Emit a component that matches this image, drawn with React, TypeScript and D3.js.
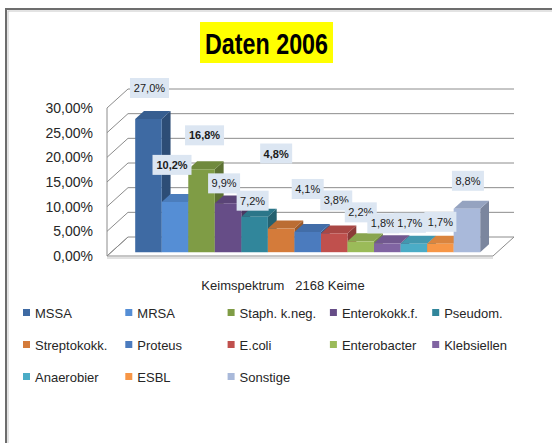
import React from "react";
import * as d3 from "d3";

// Keimspektrum 2006, Anteile in %
const categories = [
  "MSSA", "MRSA", "Staph. k.neg.", "Enterokokk.f.", "Pseudom.",
  "Streptokokk.", "Proteus", "E.coli", "Enterobacter", "Klebsiellen",
  "Anaerobier", "ESBL", "Sonstige",
];
const shares = [27.0, 10.2, 16.8, 9.9, 7.2, 4.8, 4.1, 3.8, 2.2, 1.8, 1.7, 1.7, 8.8];
const yTicks = [0, 5, 10, 15, 20, 25, 30];
const boldLabels = ["MRSA", "Staph. k.neg.", "Streptokokk."];

const barColors = [
  "#3e6aa3", "#558ed5", "#7f9c45", "#664d87", "#31869b", "#d47b3a", "#4b7bbe",
  "#c0504d", "#9bbb59", "#8064a2", "#4bacc6", "#f79646", "#a9b9da",
];

// label placement as Excel left it (px above bar top, px sideways)
const labelLift = [31, 37, 34, 20, 16, 75, 43, 33, 29, 20, 21, 22, 28];
const labelShift = [1, -3, 3, -4, -2, -5, 0, 2, 0, -4, -4, 0, 1];

const W = 552;
const H = 443;
const DX = 21; // depth projection
const DY = 19;
const font = "'Liberation Sans', Arial, sans-serif";

const de = d3.formatLocale({ decimal: ",", thousands: ".", grouping: [3], currency: ["", "€"] });
const fmtTick = (v: number) => de.format(".2f")(v) + "%";
const fmtLabel = (v: number) => de.format(".1f")(v) + "%";

export default function App() {
  const y = d3.scaleLinear().domain([0, 30]).range([256, 108]);
  const x = d3.scaleBand().domain(categories).range([131, 476]).padding(0);
  const wallLeft = 107;
  const wallRight = 493;
  const t0 = 0.2;
  const t1 = 0.62;

  const p = (px: number, py: number, t: number) => [px + DX * t, py - DY * t];
  const poly = (pts: number[][]) => pts.map((q) => q.join(",")).join(" ");

  return (
    <svg width={W} height={H} style={{ position: "absolute", left: 0, top: 0, background: "#fff" }}>
      {/* frame */}
      <rect x={6} y={9} width={W + 10} height={H + 10} fill="none" stroke="#6d6d6d" strokeWidth={2} />
      <rect x={8} y={11} width={W + 10} height={H + 10} fill="none" stroke="#c8c8c8" strokeWidth={1} />

      {/* title */}
      <rect x={200} y={22} width={133} height={41} fill="#ffff00" />
      <text x={266.5} y={54} textAnchor="middle" fontFamily="'Liberation Sans Narrow', 'Arial Narrow', sans-serif"
        fontWeight="bold" fontSize={29} textLength={123} lengthAdjust="spacingAndGlyphs" fill="#000">
        Daten 2006
      </text>

      {/* floor */}
      <polygon
        points={poly([[wallLeft, y(0)], [wallRight, y(0)], p(wallRight, y(0), 1), p(wallLeft, y(0), 1)])}
        fill="#fff" stroke="#8c8c8c" strokeWidth={1}
      />
      <line x1={wallLeft} x2={wallRight} y1={y(0) + 2} y2={y(0) + 2} stroke="#c4c4c4" />

      {/* walls and gridlines */}
      <line x1={wallLeft} x2={wallLeft} y1={y(30)} y2={y(0)} stroke="#8c8c8c" />
      {yTicks.map((v) => {
        const [bx, by] = p(wallLeft, y(v), 1);
        const [ex] = p(wallRight, y(v), 1);
        return (
          <g key={v}>
            <line x1={wallLeft} y1={y(v)} x2={bx} y2={by} stroke="#8c8c8c" />
            {v > 0 && <line x1={bx} y1={by} x2={ex} y2={by} stroke="#8c8c8c" />}
          </g>
        );
      })}

      {/* y axis labels */}
      {yTicks.map((v) => (
        <text key={v} x={93} y={y(v) + 5} textAnchor="end" fontFamily={font} fontSize={14} fill="#262626">
          {fmtTick(v)}
        </text>
      ))}

      {/* bars */}
      {categories.map((c, i) => {
        const x0 = x(c)!;
        const x1 = x0 + x.bandwidth();
        const top = y(shares[i]);
        const base = y(0);
        const col = d3.color(barColors[i])!;
        const fl = p(x0, base, t0);
        const fr = p(x1, base, t0);
        const tl = p(x0, top, t0);
        const tr = p(x1, top, t0);
        const btl = p(x0, top, t1);
        const btr = p(x1, top, t1);
        const bbr = p(x1, base, t1);
        return (
          <g key={c}>
            <polygon points={poly([tr, btr, bbr, fr])} fill={col.darker(0.9).toString()} />
            <polygon points={poly([tl, tr, btr, btl])} fill={col.darker(0.35).toString()} />
            <polygon points={poly([fl, fr, tr, tl])} fill={col.toString()} />
          </g>
        );
      })}

      {/* data labels */}
      {categories.map((c, i) => {
        const label = fmtLabel(shares[i]);
        const [fx, fy] = p(x(c)! + x.bandwidth() / 2, y(shares[i]), t0);
        const cx = fx + labelShift[i];
        const cy = fy - labelLift[i];
        const bw = label.length * 7 + 4;
        return (
          <g key={c}>
            <rect x={cx - bw / 2} y={cy - 10} width={bw} height={20} fill="#dce6f2" />
            <text x={cx} y={cy + 4} textAnchor="middle" fontFamily={font} fontSize={11}
              fontWeight={boldLabels.includes(c) ? "bold" : "normal"} fill="#1a1a1a">
              {label}
            </text>
          </g>
        );
      })}

      {/* axis title */}
      <text x={283} y={290} textAnchor="middle" fontFamily={font} fontSize={13} fill="#262626" style={{ whiteSpace: "pre" }}>
        {"Keimspektrum   2168 Keime"}
      </text>

      {/* legend */}
      {categories.map((c, i) => {
        const col = i % 5;
        const row = Math.floor(i / 5);
        const lx = 23 + col * 102.3;
        const ly = 313 + row * 32;
        return (
          <g key={c}>
            <rect x={lx} y={ly - 4} width={7} height={7} fill={barColors[i]} />
            <text x={lx + 12} y={ly + 4.5} fontFamily={font} fontSize={13} fill="#262626">
              {c}
            </text>
          </g>
        );
      })}
    </svg>
  );
}
